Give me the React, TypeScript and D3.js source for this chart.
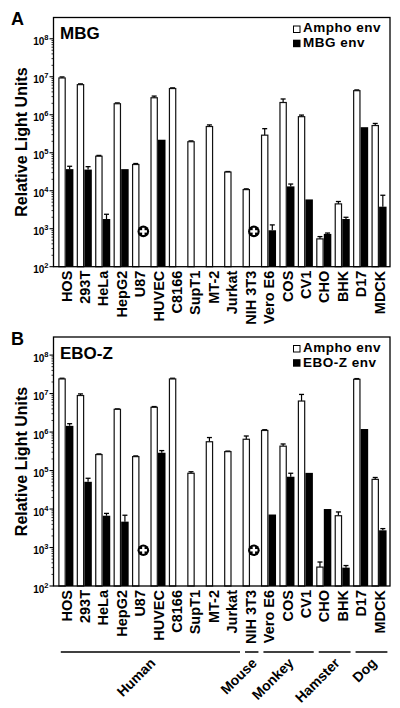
import React from "react";
import * as d3 from "d3";

const categories = ["HOS","293T","HeLa","HepG2","U87","HUVEC","C8166","SupT1","MT-2","Jurkat","NIH 3T3","Vero E6","COS","CV1","CHO","BHK","D17","MDCK"];

// Panel A (MBG)
const amphoA = [9.3e6, 6.2e6, 8.1e4, 1.95e6, 4.9e4, 2.8e6, 4.9e6, 1.95e5, 4.9e5, 3.1e4, 1.07e4, 2.9e5, 2.1e6, 8.9e5, 540, 4.5e3, 4.3e6, 5.2e5];
const amphoErrA = [9.9e6, 6.5e6, 8.5e4, 2.05e6, 5.2e4, 3.1e6, 5.1e6, 2.05e5, 5.4e5, 3.2e4, 1.12e4, 4.3e5, 2.6e6, 9.8e5, 620, 5.2e3, 4.5e6, 5.9e5];
const mbgA = [3.7e4, 3.6e4, 1.8e3, 3.7e4, null, 2.2e5, null, null, null, null, null, 910, 1.3e4, 5.9e3, 730, 1.8e3, 4.7e5, 3.8e3];
const mbgErrA = [4.4e4, 4.3e4, 2.4e3, null, null, null, null, null, null, null, null, 1.26e3, 1.5e4, null, 770, 2.0e3, null, 7.6e3];

// Panel B (EBO-Z)
const amphoB = [2.4e7, 8.9e6, 2.6e5, 3.9e6, 2.3e5, 4.4e6, 2.4e7, 8.5e4, 5.6e5, 3.1e5, 6.5e5, 1.1e6, 4.3e5, 6.4e6, 310, 6.7e3, 2.35e7, 5.9e4];
const amphoErrB = [2.5e7, 9.8e6, 2.7e5, 4.0e6, 2.4e5, 4.6e6, 2.5e7, 9.3e4, 7.2e5, 3.2e5, 7.9e5, 1.15e6, 4.9e5, 9.5e6, 420, 8.4e3, 2.45e7, 6.6e4];
const eboB = [1.45e6, 5.1e4, 6.7e3, 4.7e3, null, 2.9e5, null, null, null, null, null, 7.2e3, 6.9e4, 8.7e4, 1.0e4, 300, 1.2e6, 2.8e3];
const eboErrB = [1.65e6, 6.3e4, 7.7e3, 6.9e3, null, 3.3e5, null, null, null, null, null, null, 8.5e4, null, null, 340, null, 3.1e3];

const notDetected = ["U87", "NIH 3T3"];
const notDetectedValue = 850;

const yTicks = [1e2, 1e3, 1e4, 1e5, 1e6, 1e7, 1e8];
const tickExps = ["2", "3", "4", "5", "6", "7", "8"];

const groups = ["Human", "Mouse", "Monkey", "Hamster", "Dog"];
const groupStart = ["HOS", "NIH 3T3", "Vero E6", "CHO", "D17"];
const groupEnd = ["Jurkat", "NIH 3T3", "CV1", "BHK", "MDCK"];

const FONT = "'Liberation Sans', Arial, Helvetica, sans-serif";

const x = d3.scaleBand<string>().domain(categories).range([57.8, 389.4]).paddingInner(0).paddingOuter(0);

type PanelProps = {
  letter: string; title: string; blackLabel: string;
  top: number; bottom: number; maxLog: number;
  white: (number | null)[]; whiteErr: (number | null)[];
  black: (number | null)[]; blackErr: (number | null)[];
};

function Panel(p: PanelProps) {
  const y = d3.scaleLog().domain([1e2, Math.pow(10, p.maxLog)]).range([p.bottom, p.top]);
  const left = 53.5, right = 390;
  const minor: number[] = [];
  for (let e = 2; e < 8; e++) for (let m = 2; m <= 9; m++) minor.push(m * Math.pow(10, e));
  const wOff = 0.5, bOff = 8.1, bw = 7.5;
  return (
    <g>
      <text x={11} y={p.top + 7.5} fontSize={18} fontWeight="bold" fontFamily={FONT}>{p.letter}</text>
      {categories.map((c, i) => {
        const bx = x(c)!;
        const v = p.white[i];
        const e = p.whiteErr[i];
        if (v == null) return null;
        const cx = bx + wOff + bw / 2;
        return (
          <g key={"w" + c}>
            {e != null && <line x1={cx} x2={cx} y1={y(v)} y2={y(e)} stroke="#000" strokeWidth={1.2} />}
            {e != null && <line x1={cx - 2.5} x2={cx + 2.5} y1={y(e)} y2={y(e)} stroke="#000" strokeWidth={1.3} />}
            <rect x={bx + wOff + 0.6} y={y(v)} width={bw - 1.2} height={p.bottom - y(v)} fill="#fff" stroke="#111" strokeWidth={1.2} />
          </g>
        );
      })}
      {categories.map((c, i) => {
        const bx = x(c)!;
        const v = p.black[i];
        const e = p.blackErr[i];
        if (v == null) return null;
        const cx = bx + bOff + bw / 2;
        return (
          <g key={"b" + c}>
            {e != null && <line x1={cx} x2={cx} y1={y(v)} y2={y(e)} stroke="#000" strokeWidth={1.2} />}
            {e != null && <line x1={cx - 2.5} x2={cx + 2.5} y1={y(e)} y2={y(e)} stroke="#000" strokeWidth={1.3} />}
            <rect x={bx + bOff} y={y(v)} width={bw} height={p.bottom - y(v)} fill="#000" />
          </g>
        );
      })}
      {notDetected.map((c) => {
        const cx = x(c)! + bOff + bw / 2;
        const cy = y(notDetectedValue);
        return (
          <g key={"nd" + c}>
            <circle cx={cx} cy={cy} r={5.8} fill="#000" />
            <rect x={cx - 3.6} y={cy - 1.2} width={7.2} height={2.4} fill="#fff" />
            <rect x={cx - 1.2} y={cy - 3.6} width={2.4} height={7.2} fill="#fff" />
          </g>
        );
      })}
      <rect x={left} y={p.top} width={right - left} height={p.bottom - p.top} fill="none" stroke="#000" strokeWidth={1.3} />
      {yTicks.map((t, i) => (
        <g key={"t" + i}>
          <line x1={left - 4} x2={left} y1={y(t)} y2={y(t)} stroke="#000" strokeWidth={1.1} />
          <text x={48.5} y={y(t) + 6.5} textAnchor="end" fontSize={10} fontWeight="bold" fontFamily={FONT}>
            10<tspan dy={-5} fontSize={7.5}>{tickExps[i]}</tspan>
          </text>
        </g>
      ))}
      {minor.map((m, i) => (
        <line key={"m" + i} x1={left - 2} x2={left} y1={y(m)} y2={y(m)} stroke="#000" strokeWidth={0.8} />
      ))}
      <text transform={`translate(26.5,${(p.top + p.bottom) / 2}) rotate(-90)`} textAnchor="middle" fontSize={16} fontWeight="bold" fontFamily={FONT}>Relative Light Units</text>
      <text x={60} y={p.top + 21.5} fontSize={17} fontWeight="bold" fontFamily={FONT}>{p.title}</text>
      <rect x={293.5} y={p.top + 8.5} width={6.5} height={6.5} fill="#fff" stroke="#000" strokeWidth={1} />
      <text x={303} y={p.top + 14.5} fontSize={13.5} letterSpacing={0.5} fontWeight="bold" fontFamily={FONT}>Ampho env</text>
      <rect x={293} y={p.top + 22.2} width={7.5} height={7.5} fill="#000" />
      <text x={303} y={p.top + 29.7} fontSize={13.5} letterSpacing={0.5} fontWeight="bold" fontFamily={FONT}>{p.blackLabel}</text>
      {categories.map((c) => (
        <text key={"l" + c} transform={`translate(${x(c)! + 8.5 + 5.2},${p.bottom + 4}) rotate(-90)`} textAnchor="end" fontSize={14.5} fontWeight="bold" fontFamily={FONT}>{c}</text>
      ))}
    </g>
  );
}

export default function App() {
  return (
    <svg width={400} height={708} style={{ position: "absolute", left: 0, top: 0, background: "#fff" }}>
      <rect x={0} y={0} width={400} height={708} fill="#fff" />
      <Panel letter="A" title="MBG" blackLabel="MBG env" top={17.5} bottom={266.7} maxLog={8.56}
        white={amphoA} whiteErr={amphoErrA} black={mbgA} blackErr={mbgErrA} />
      <Panel letter="B" title="EBO-Z" blackLabel="EBO-Z env" top={337} bottom={586} maxLog={8.47}
        white={amphoB} whiteErr={amphoErrB} black={eboB} blackErr={eboErrB} />
      {groups.map((g, i) => {
        const x1 = x(groupStart[i])! + 3;
        const x2 = x(groupEnd[i])! + x.bandwidth() - 2;
        const c = (x1 + x2) / 2;
        return (
          <g key={g}>
            <line x1={x1} x2={x2} y1={652} y2={652} stroke="#000" strokeWidth={1.5} />
            <text transform={`translate(${c + 6},664) rotate(-45)`} textAnchor="end" fontSize={14} fontWeight="bold" fontFamily={FONT}>{g}</text>
          </g>
        );
      })}
    </svg>
  );
}
